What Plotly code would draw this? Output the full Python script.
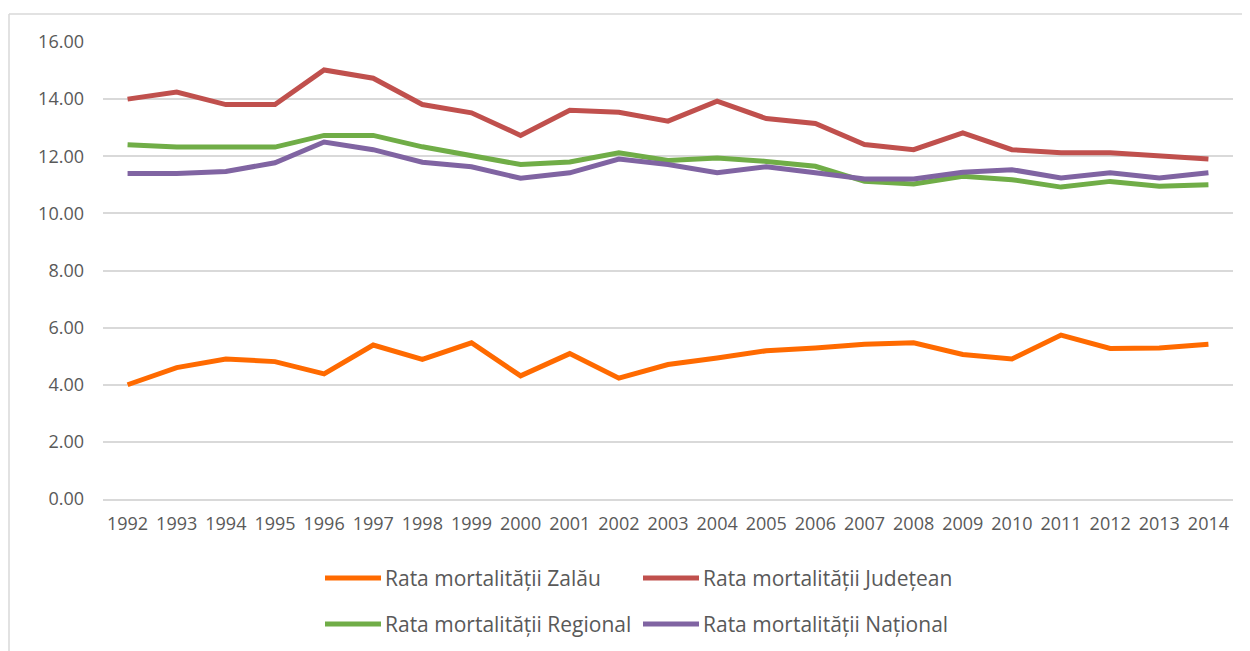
import plotly.graph_objects as go

years = [str(y) for y in range(1992, 2015)]

zalau = [4.00, 4.60, 4.90, 4.81, 4.38, 5.39, 4.89, 5.47, 4.31, 5.09, 4.23, 4.71,
         4.94, 5.19, 5.29, 5.42, 5.47, 5.06, 4.90, 5.74, 5.27, 5.29, 5.42]
judetean = [14.00, 14.25, 13.81, 13.81, 15.02, 14.73, 13.81, 13.52, 12.73, 13.61, 13.54, 13.23,
            13.93, 13.32, 13.15, 12.41, 12.23, 12.82, 12.23, 12.12, 12.12, 12.02, 11.90]
regional = [12.40, 12.32, 12.32, 12.32, 12.73, 12.73, 12.33, 12.02, 11.71, 11.80, 12.12, 11.85,
            11.94, 11.82, 11.65, 11.12, 11.03, 11.30, 11.18, 10.92, 11.12, 10.95, 11.00]
national = [11.40, 11.40, 11.47, 11.77, 12.50, 12.23, 11.79, 11.63, 11.23, 11.42, 11.90, 11.71,
            11.42, 11.63, 11.42, 11.20, 11.20, 11.44, 11.53, 11.24, 11.42, 11.24, 11.42]

series_names = ["Rata mortalității Zalău", "Rata mortalității Județean",
                "Rata mortalității Regional", "Rata mortalității Național"]
series_vals = [zalau, judetean, regional, national]
colors = ["#FF6A00", "#C0504D", "#70AD47", "#8064A2"]

y_ticks = [0, 2, 4, 6, 8, 10, 12, 14, 16]

# page body has an 8px margin; work in page pixels and convert
OFF = 8
W, H = 1250 - OFF, 651 - OFF
PL, PR, PT, PB = 103, 1233, 42, 499  # plot area in page pixels
L, T = PL - OFF, PT - OFF
R = W - (PR - OFF)
B = H - (PB - OFF)
pw, ph = PR - PL, PB - PT

def px_x(p):
    return (p - PL) / pw

def px_y(p):
    return (PB - p) / ph

fig = go.Figure()
for name, vals, c in zip(series_names, series_vals, colors):
    fig.add_trace(go.Scatter(x=years, y=vals, name=name, mode="lines",
                             line=dict(color=c, width=5, shape="linear"),
                             showlegend=False))

font_family = "Open Sans, sans-serif"
grey = "#595959"

shapes = [
    dict(type="line", xref="paper", yref="paper", x0=px_x(9), x1=px_x(1252), y0=px_y(14), y1=px_y(14),
         line=dict(color="#D9D9D9", width=1.5)),
    dict(type="line", xref="paper", yref="paper", x0=px_x(9), x1=px_x(9), y0=px_y(14), y1=px_y(655),
         line=dict(color="#D9D9D9", width=1.5)),
]
annotations = []
legend_pos = [(325, 578), (643, 578), (325, 624), (643, 624)]
for (lx, ly), name, c in zip(legend_pos, series_names, colors):
    shapes.append(dict(type="line", xref="paper", yref="paper",
                       x0=px_x(lx), x1=px_x(lx + 56), y0=px_y(ly), y1=px_y(ly),
                       line=dict(color=c, width=5)))
    annotations.append(dict(xref="paper", yref="paper", x=px_x(lx + 58), y=px_y(ly),
                            text=name, showarrow=False, xanchor="left", yanchor="middle",
                            font=dict(family=font_family, size=21, color=grey)))

fig.update_layout(
    width=W, height=H,
    margin=dict(l=L, r=R, t=T, b=B),
    paper_bgcolor="white", plot_bgcolor="white",
    font=dict(family=font_family, color=grey),
    shapes=shapes, annotations=annotations,
    xaxis=dict(type="category", range=[-0.5, 22.5], showgrid=False, zeroline=False,
               showline=True, linecolor="#D9D9D9", linewidth=1.5, ticks="",
               tickfont=dict(size=18, color=grey), tickangle=0, ticklabelstandoff=8),
    yaxis=dict(range=[0, 16], tickvals=y_ticks, ticktext=[f"{v:.2f}" for v in y_ticks],
               showgrid=True, gridcolor="#D9D9D9", gridwidth=1.5, zeroline=False,
               showline=False, tickfont=dict(size=18, color=grey), ticklabelstandoff=18),
)

fig.write_html("out.html")
